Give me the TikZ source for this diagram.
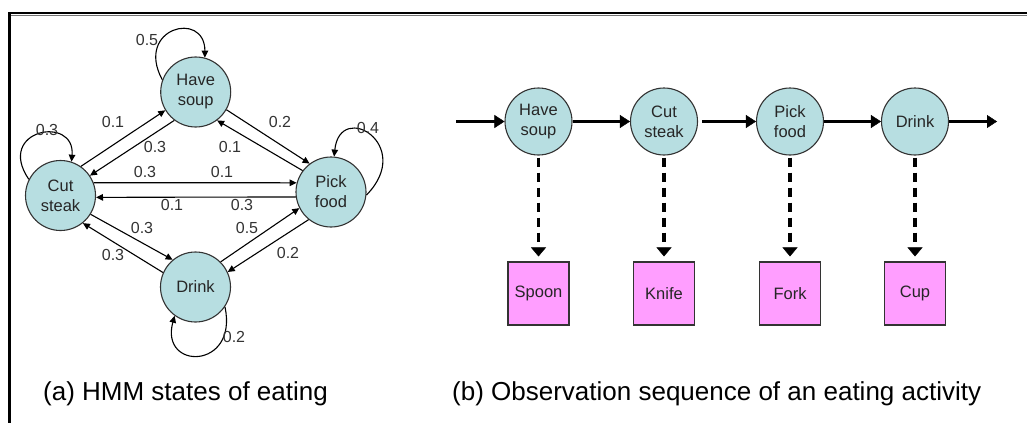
\documentclass[tikz,border=0pt]{standalone}
\usepackage{fontspec}
\setmainfont{Liberation Sans}
\usetikzlibrary{arrows.meta,calc}
\definecolor{statefill}{RGB}{183,222,225}
\definecolor{obsfill}{RGB}{255,158,255}
\begin{document}
\begin{tikzpicture}[x=1pt,y=-1pt,
  state/.style={circle,draw=black!80,line width=1.1pt,fill=statefill,
    minimum size=70pt,inner sep=0pt,align=center,text=black!85,
    font=\fontsize{16.5}{20}\selectfont},
  state2/.style={state,minimum size=67pt},
  obs/.style={rectangle,draw=black!80,line width=1.1pt,fill=obsfill,
    minimum width=61pt,minimum height=63pt,inner sep=0pt,text=black!85,
    font=\fontsize{16.5}{20}\selectfont},
  tr/.style={line width=1.1pt,-{Triangle[length=7pt,width=6.5pt]}},
  prob/.style={font=\fontsize{16}{18}\selectfont,inner sep=0pt,text=black!80},
  seq/.style={line width=3pt,-{Triangle[length=10pt,width=13pt,line width=0.4pt]}},
  emit/.style={line width=3.5pt,dash pattern=on 9pt off 6pt,
    -{Triangle[length=9pt,width=15pt,line width=0.4pt]},shorten >=5pt},
  caption/.style={font=\fontsize{26}{30}\selectfont,anchor=base west,inner sep=0pt}]

\useasboundingbox (0,0) rectangle (1027,423);

% frame
\draw[black!55,line width=1pt] (11,15.5) -- (1027,15.5);
\draw[line width=2.2pt] (8,13) -- (1027,13);
\draw[line width=3pt] (9.5,12) -- (9.5,423);

% ---------- (a) HMM states ----------
\node[state] (have)  at (195.7,92)  {Have\\soup};
\node[state] (cut)   at (60.5,195.5) {Cut\\steak};
\node[state] (pick)  at (331,192)   {Pick\\food};
\node[state] (drink) at (195.5,287) {Drink};

\draw[tr] (cut.55)   -- (have.211);
\draw[tr] (have.233) -- (cut.34);
\draw[tr] (have.330) -- (pick.127);
\draw[tr] (pick.143) -- (have.307);
\draw[tr] (cut.21)   -- (pick.165);
\draw[tr] (pick.188) -- (cut.357);
\draw[tr] (cut.328)  -- (drink.130);
\draw[tr] (drink.156) -- (cut.309);
\draw[tr] (drink.45) -- (pick.207);
\draw[tr] (pick.231) -- (drink.25);

% self transitions
\draw[tr] (have.160) .. controls ($(have.160)+(-28,-52)$) and ($(have.75)+(0,-48)$) .. (have.75);
\draw[tr] (cut.153) .. controls ($(cut.153)+(-34,-50)$) and ($(cut.72)+(4,-47)$) .. (cut.72);
\draw[tr] (pick.355) .. controls ($(pick.355)+(49,-50)$) and ($(pick.85)+(6,-57)$) .. (pick.85);
\draw[tr] (drink.326) .. controls ($(drink.326)+(13.5,63)$) and ($(drink.234)+(-15,55)$) .. (drink.234);

% transition probabilities
\node[prob] (p1)  at (147,40)  {0.5};
\node[prob] (p2)  at (47,130)  {0.3};
\node[prob] (p3)  at (113,122) {0.1};
\node[prob] (p4)  at (155,147) {0.3};
\node[prob] (p5)  at (280,122) {0.2};
\node[prob] (p6)  at (230,147) {0.1};
\node[prob] (p7)  at (368,128) {0.4};
\node[prob] (p8)  at (145,172) {0.3};
\node[prob] (p9)  at (222,172) {0.1};
\node[prob] (p10) at (172,205) {0.1};
\node[prob] (p11) at (242,205) {0.3};
\node[prob] (p12) at (142,228) {0.3};
\node[prob] (p13) at (113,255) {0.3};
\node[prob] (p14) at (247,228) {0.5};
\node[prob] (p15) at (288,253) {0.2};
\node[prob] (p16) at (234,337) {0.2};

% ---------- (b) observation sequence ----------
\coordinate (seqin)  at (456,121.5);
\coordinate (seqout) at (997,121.5);
\node[state2] (h2) at (538.5,121.5) {Have\\soup};
\node[state2] (c2) at (664,121.5)   {Cut\\steak};
\node[state2] (k2) at (790,121.5)   {Pick\\food};
\node[state2] (d2) at (915,121.5)   {Drink};

\draw[seq] (seqin) -- (h2);
\draw[seq] (h2) -- (c2);
\draw[seq] ([xshift=4pt]c2.east) -- (k2);
\draw[seq] (k2) -- (d2);
\draw[seq] (d2) -- (seqout);

\node[obs] (spoon) at (538.5,293.5) {Spoon};
\node[obs] (knife) at (664,293.5)   {Knife};
\node[obs] (fork)  at (790,293.5)   {Fork};
\node[obs] (cup)   at (915,293.5)   {Cup};

\draw[emit] ([yshift=-2pt]h2.south) -- (spoon.north);
\draw[emit] ([yshift=-2pt]c2.south) -- (knife.north);
\draw[emit] ([yshift=-2pt]k2.south) -- (fork.north);
\draw[emit] ([yshift=-2pt]d2.south) -- (cup.north);

% captions
\node[caption] (capa) at (43,400)  {(a) HMM states of eating};
\node[caption] (capb) at (452,400) {(b) Observation sequence of an eating activity};
\end{tikzpicture}
\end{document}
